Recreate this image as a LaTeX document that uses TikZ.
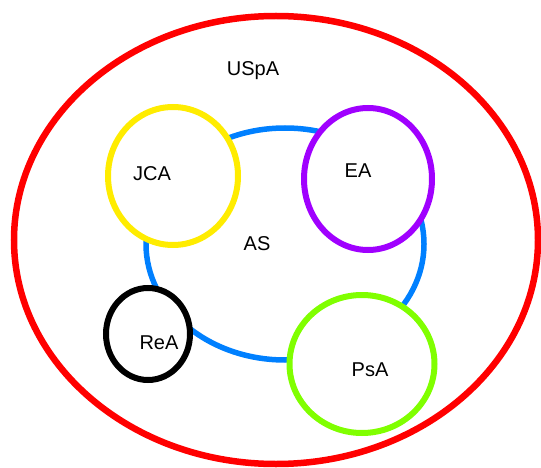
\documentclass[tikz,border=0pt]{standalone}
\usepackage{fontspec}
\setmainfont{Liberation Sans}
\usetikzlibrary{shapes.geometric}
\definecolor{cred}{RGB}{255,0,0}
\definecolor{cblue}{RGB}{0,128,255}
\definecolor{cyellow}{RGB}{255,236,0}
\definecolor{cpurple}{RGB}{160,0,255}
\definecolor{cgreen}{RGB}{128,255,0}
\begin{document}
\begin{tikzpicture}[x=1pt,y=-1pt,
  ring/.style={ellipse,draw,line width=6pt,fill=white,inner sep=0pt},
  lbl/.style={font=\fontsize{20}{24}\selectfont,anchor=base,inner sep=0pt}]
\useasboundingbox (0,0) rectangle (541,468);
\node[ellipse,draw=cred,line width=6.5pt,inner sep=0pt,minimum width=524pt,minimum height=448pt] (uspa) at (276,240) {};
\node[ellipse,draw=cblue,line width=5.5pt,inner sep=0pt,minimum width=278pt,minimum height=232pt] (as) at (285,244) {};
\node[ring,draw=cyellow,minimum width=130pt,minimum height=138pt] (jca) at (173,176) {};
\node[ring,draw=cpurple,minimum width=128pt,minimum height=142pt] (ea) at (368,179) {};
\node[ring,draw=black,minimum width=84pt,minimum height=92pt] (rea) at (148,334) {};
\node[ring,draw=cgreen,minimum width=145pt,minimum height=138pt] (psa) at (362,364) {};
\node[lbl] (tuspa) at (253,76) {USpA};
\node[lbl] (tjca) at (152,181) {JCA};
\node[lbl] (tea) at (358,178) {EA};
\node[lbl] (tas) at (257,250) {AS};
\node[lbl] (trea) at (159,349) {ReA};
\node[lbl] (tpsa) at (370,376) {PsA};
\end{tikzpicture}
\end{document}
